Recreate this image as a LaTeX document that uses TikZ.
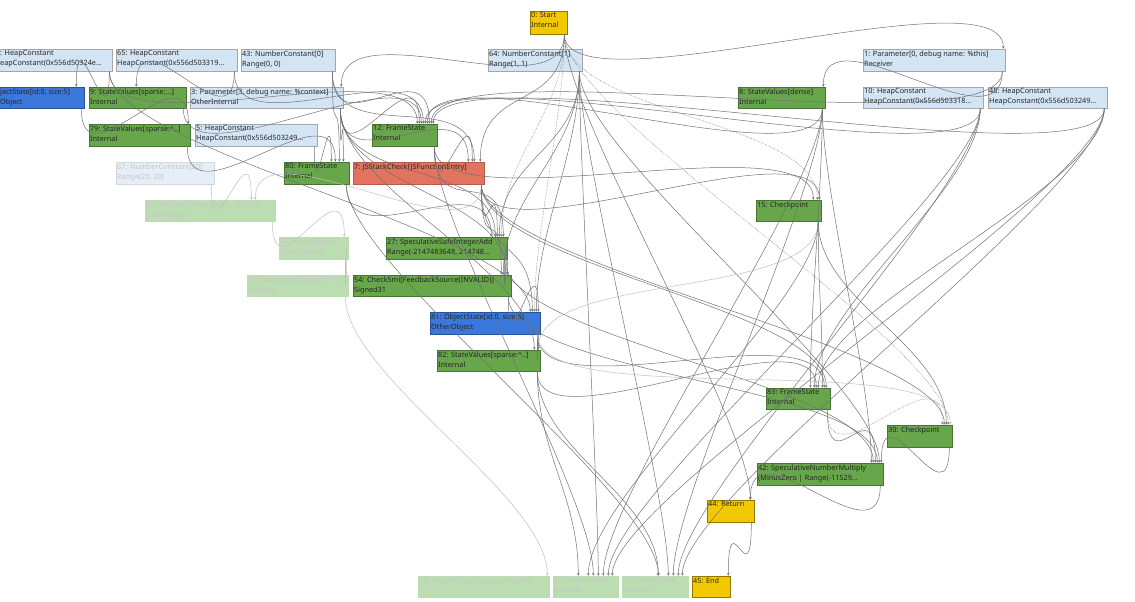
\documentclass[tikz,border=0pt]{standalone}
\usepackage{fontspec}
\setmainfont{Noto Sans}
\usetikzlibrary{fit,arrows.meta}
\definecolor{lb}{HTML}{D3E5F5}
\definecolor{gr}{HTML}{67A64A}
\definecolor{bl}{HTML}{3A78DC}
\definecolor{rd}{HTML}{E2735F}
\definecolor{yl}{HTML}{F2C900}
\definecolor{fg}{HTML}{BCDDB2}
\definecolor{fb}{HTML}{E6EFF8}
\tikzset{
 box/.style={draw=gray!70,line width=0.6pt,inner sep=0pt},
 cst/.style={box,fill=lb},
 grn/.style={box,fill=gr,draw=gr!70!black},
 blu/.style={box,fill=bl,draw=bl!70!black},
 red/.style={box,fill=rd,draw=rd!80!black},
 yel/.style={box,fill=yl,draw=yl!60!black},
 fgr/.style={box,fill=fg,draw=fg},
 fbl/.style={box,fill=fb,draw=fb!80!gray},
 txt/.style={anchor=north west,align=left,inner xsep=1pt,inner ysep=1.5pt,font=\fontsize{7.3}{10}\selectfont,text=black!85},
 ftxt/.style={txt,text=black!22},
 e/.style={draw=black!55,line width=0.5pt,-{Stealth[length=2.5pt,width=2.5pt]}},
 ef/.style={e,draw=black!25},
 ed/.style={e,densely dotted},
}
\newcommand\nd[7]{\node[#6,fit={(#2,#3)(#4,#5)}] (#1) {};
 \node[txt] at (#2,#3) {#7};}
\newcommand\fnd[7]{\node[#6,fit={(#2,#3)(#4,#5)}] (#1) {};
 \node[ftxt] at (#2,#3) {#7};}
\newcommand\ed[4][e]{\draw[#1] ([xshift=-3pt]#2.south east) .. controls +(0,80) and +(0,-80) .. ([xshift=#4]#3.north east);}
\begin{document}
\begin{tikzpicture}[x=1pt,y=-1pt]
\fill[white] (0,0) rectangle (1135,602);
\useasboundingbox (0,0) rectangle (1135,602);
\clip (0,0) rectangle (1135,602);
% nodes
\nd{n0}{530}{11}{567}{34}{yel}{0: Start\\Internal}
\node[cst,fit={(-6,49)(112,71)}] (hcl) {};
\node[txt,anchor=north west] at (-1,49) {: HeapConstant\\eapConstant(0x556d50324e...};
\nd{n65}{116}{49}{237}{71}{cst}{65: HeapConstant\\HeapConstant(0x556d503319...}
\nd{n43}{241}{49}{335}{71}{cst}{43: NumberConstant[0]\\Range(0, 0)}
\nd{n64}{488}{49}{582}{71}{cst}{64: NumberConstant[1]\\Range(1, 1)}
\nd{n1}{863}{49}{1005}{71}{cst}{1: Parameter[0, debug name: \%this]\\Receiver}
\node[blu,fit={(-6,87)(84,108)}] (obl) {};
\node[txt] at (-1,87) {jectState[id:0, size:5]\\Object};
\nd{n9}{89}{87}{186}{108}{grn}{9: StateValues[sparse:...]\\Internal}
\nd{n3}{190}{87}{343}{108}{cst}{3: Parameter[3, debug name: \%context]\\OtherInternal}
\nd{n8}{738}{87}{825}{108}{grn}{8: StateValues[dense]\\Internal}
\nd{n10}{863}{87}{983}{108}{cst}{10: HeapConstant\\HeapConstant(0x556d503318...}
\nd{n48}{988}{87}{1107}{108}{cst}{48: HeapConstant\\HeapConstant(0x556d503249...}
\nd{n79}{89}{124}{190}{146}{grn}{79: StateValues[sparse:\^{}..]\\Internal}
\nd{n5}{195}{124}{317}{146}{cst}{5: HeapConstant\\HeapConstant(0x556d503249...}
\nd{n12}{372}{124}{437}{146}{grn}{12: FrameState\\Internal}
\nd{n80}{284}{162}{349}{184}{grn}{80: FrameState\\Internal}
\nd{n7}{353}{162}{484}{184}{red}{7: JSStackCheck[JSFunctionEntry]\\\mbox{}}
\fnd{n67}{116}{162}{214}{184}{fbl}{67: NumberConstant[20]\\Range(20, 20)}
\fnd{n68}{145}{200}{275}{221}{fgr}{68: Allocate[OtherObject, Young]\\OtherObject}
\nd{n15}{756}{200}{821}{221}{grn}{15: Checkpoint\\\mbox{}}
\fnd{n75}{279}{237}{348}{259}{fgr}{75: FinishRegion\\OtherObject}
\nd{n27}{386}{237}{507}{259}{grn}{27: SpeculativeSafeIntegerAdd\\Range(-2147483648, 214748...}
\fnd{n16}{247}{275}{348}{296}{fgr}{16: StateValues[sparse:\^{}..]\\Internal}
\nd{n54}{353}{275}{511}{296}{grn}{54: CheckSmi[FeedbackSource(INVALID)]\\Signed31}
\nd{n81}{430}{312}{540}{334}{blu}{81: ObjectState[id:0, size:5]\\OtherObject}
\nd{n82}{437}{350}{540}{371}{grn}{82: StateValues[sparse:\^{}..]\\Internal}
\nd{n83}{766}{388}{830}{409}{grn}{83: FrameState\\Internal}
\nd{n30}{887}{425}{952}{447}{grn}{30: Checkpoint\\\mbox{}}
\nd{n42}{757}{463}{883}{485}{grn}{42: SpeculativeNumberMultiply\\(MinusZero | Range(-11529...}
\nd{n44}{707}{500}{754}{522}{yel}{44: Return\\\mbox{}}
\fnd{n66}{418}{576}{549}{597}{fgr}{66: BeginRegion[not-observable]\\\mbox{}}
\fnd{n17}{553}{576}{618}{597}{fgr}{17: FrameState\\Internal}
\fnd{n31}{622}{576}{688}{597}{fgr}{31: FrameState\\Internal}
\nd{n45}{692}{576}{730}{597}{yel}{45: End\\\mbox{}}
% edges
\ed{n0}{n1}{-2pt}
\ed{n0}{n3}{-2pt}
\ed{n0}{n7}{-4pt}
\ed[ed]{n0}{n15}{-4pt}
\ed[ed]{n0}{n30}{-4pt}
\ed[ed]{n0}{n27}{-6pt}
\ed{n0}{n44}{-4pt}
\ed[ed]{n0}{n81}{-6pt}
\ed{hcl}{obl}{-8pt}
\ed{hcl}{n12}{-20pt}
\ed{hcl}{n81}{-10pt}
\ed{n65}{n9}{-50pt}
\ed{n65}{n12}{-14pt}
\ed{n43}{n80}{-10pt}
\ed{n43}{n12}{-8pt}
\ed{n43}{n7}{-10pt}
\ed{n64}{n27}{-8pt}
\ed{n64}{n54}{-8pt}
\ed{n64}{n17}{-20pt}
\ed{n64}{n31}{-20pt}
\ed{n64}{n42}{-4pt}
\ed{n64}{n81}{-4pt}
\ed{n1}{n8}{-2pt}
\ed{n1}{n12}{-6pt}
\ed{n8}{n12}{-10pt}
\ed{n8}{n83}{-20pt}
\ed{n8}{n17}{-15pt}
\ed{n8}{n31}{-15pt}
\ed{n8}{n42}{-12pt}
\ed{n10}{n12}{-12pt}
\ed{n10}{n83}{-16pt}
\ed{n10}{n17}{-10pt}
\ed{n10}{n31}{-10pt}
\ed{n48}{n12}{-4pt}
\ed{n48}{n83}{-12pt}
\ed{n48}{n17}{-6pt}
\ed{n48}{n31}{-6pt}
\ed{obl}{n79}{-2pt}
\ed{n9}{n12}{-16pt}
\ed{n3}{n12}{-18pt}
\ed{n3}{n80}{-6pt}
\ed{n3}{n7}{-16pt}
\ed{n3}{n54}{-4pt}
\ed{n3}{n27}{-12pt}
\ed{n3}{n82}{-6pt}
\ed{n79}{n80}{-14pt}
\ed{n5}{n80}{-18pt}
\ed{n12}{n7}{-12pt}
\ed{n12}{n27}{-4pt}
\ed{n12}{n15}{-8pt}
\ed{n12}{n17}{-25pt}
\ed{n80}{n27}{-16pt}
\ed{n80}{n31}{-30pt}
\ed{n7}{n15}{-2pt}
\ed{n7}{n27}{-10pt}
\ed{n7}{n54}{-10pt}
\ed[ef]{n7}{n68}{-20pt}
\ed{n7}{n83}{-4pt}
\ed{n7}{n30}{-8pt}
\ed{n7}{n81}{-8pt}
\ed[ef]{n67}{n68}{-24pt}
\ed[ef]{n68}{n75}{-4pt}
\ed[ef]{n75}{n16}{-2pt}
\ed[ef]{n16}{n66}{-2pt}
\ed[ef]{n15}{n82}{-2pt}
\ed{n15}{n83}{-8pt}
\ed{n15}{n30}{-6pt}
\ed{n15}{n17}{-30pt}
\ed{n27}{n54}{-4pt}
\ed{n27}{n42}{-10pt}
\ed{n54}{n81}{-2pt}
\ed{n54}{n42}{-6pt}
\ed{n81}{n82}{-2pt}
\ed{n81}{n83}{-6pt}
\ed[ef]{n81}{n30}{-2pt}
\ed{n82}{n83}{-14pt}
\ed{n82}{n17}{-40pt}
\ed{n82}{n31}{-30pt}
\ed[ed]{n83}{n30}{-10pt}
\ed{n83}{n42}{-8pt}
\ed{n30}{n42}{-2pt}
\ed{n42}{n44}{-4pt}
\ed{n44}{n45}{-2pt}
\end{tikzpicture}
\end{document}
